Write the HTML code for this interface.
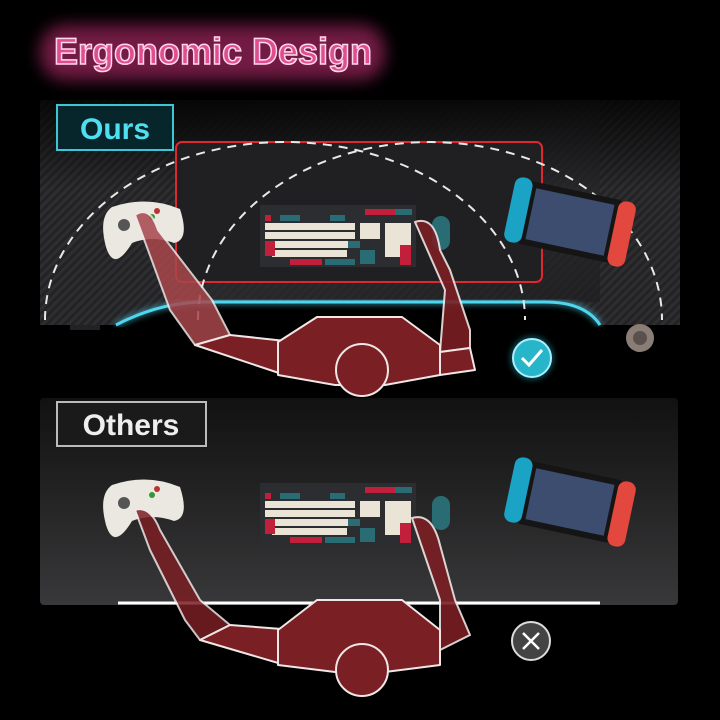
<!DOCTYPE html>
<html><head><meta charset="utf-8"><style>
html,body{margin:0;padding:0;background:#000;}
svg{display:block}
</style></head><body>
<svg width="720" height="720" viewBox="0 0 720 720" xmlns="http://www.w3.org/2000/svg">
<defs>
<linearGradient id="desk" x1="0" y1="0" x2="1" y2="1">
<stop offset="0" stop-color="#1a1a1c"/><stop offset="0.5" stop-color="#2c2c2f"/><stop offset="1" stop-color="#1e1e20"/>
</linearGradient>
<linearGradient id="desk2" x1="0" y1="0" x2="0" y2="1">
<stop offset="0" stop-color="#111"/><stop offset="1" stop-color="#38383a"/>
</linearGradient>
<linearGradient id="fade" x1="0" y1="0" x2="0" y2="1">
<stop offset="0" stop-color="#000" stop-opacity="0.8"/><stop offset="0.4" stop-color="#000" stop-opacity="0"/>
</linearGradient>
<pattern id="carbon" width="6" height="6" patternUnits="userSpaceOnUse" patternTransform="rotate(45)">
<rect width="6" height="6" fill="#232325"/><rect width="3" height="6" fill="#2e2e31"/>
</pattern>
<filter id="glow" x="-20%" y="-50%" width="140%" height="200%"><feGaussianBlur stdDeviation="8"/></filter>
<filter id="g2"><feGaussianBlur stdDeviation="3"/></filter>
<g id="kb">
<rect x="0" y="0" width="156" height="62" fill="#2b2d30"/>
<rect x="105" y="4" width="30" height="6" fill="#c21f3a"/><rect x="135" y="4" width="17" height="6" fill="#2a6c74"/>
<g fill="#e9e4d6">
<rect x="5" y="18" width="90" height="7"/><rect x="5" y="27" width="90" height="7"/><rect x="10" y="36" width="80" height="7"/><rect x="12" y="45" width="75" height="7"/>
<rect x="100" y="18" width="20" height="16"/><rect x="125" y="18" width="26" height="34"/>
</g>
<g fill="#2a6c74"><rect x="20" y="10" width="20" height="6"/><rect x="70" y="10" width="15" height="6"/><rect x="88" y="36" width="12" height="7"/><rect x="65" y="54" width="30" height="6"/><rect x="100" y="45" width="15" height="14"/></g>
<g fill="#c21f3a"><rect x="5" y="10" width="6" height="6"/><rect x="5" y="36" width="10" height="15"/><rect x="30" y="54" width="32" height="6"/><rect x="140" y="40" width="11" height="20"/></g>
</g>
<g id="sw">
<rect x="-48" y="-32" width="96" height="64" rx="4" fill="#151515"/>
<rect x="-40" y="-26" width="80" height="52" fill="#3d4d70"/>
<rect x="-62" y="-34" width="18" height="66" rx="8" fill="#1ba3c6"/>
<rect x="44" y="-32" width="18" height="66" rx="8" fill="#e2483d"/>
</g>
<g id="ctl">
<path d="M10 12 Q45 0 78 14 Q88 45 72 48 Q50 40 30 48 Q12 78 4 52 Q-4 22 10 12Z" fill="#ebe8e2"/>
<circle cx="22" cy="30" r="6" fill="#555"/><circle cx="55" cy="16" r="3" fill="#b33"/><circle cx="50" cy="22" r="3" fill="#393"/>
</g>
</defs>

<!-- Title -->
<rect x="40" y="25" width="345" height="55" rx="25" fill="#d0317c" opacity="0.55" filter="url(#glow)"/>
<text x="54" y="64" font-family="Liberation Sans, sans-serif" font-weight="bold" font-size="37" fill="#dd4f90" stroke="#ffd6ea" stroke-width="1.5" textLength="318" lengthAdjust="spacingAndGlyphs">Ergonomic Design</text>

<!-- ===== OURS ===== -->
<path d="M40 100 H680 V325 H600 Q590 302 545 302 H205 Q160 302 120 325 H40 Z" fill="url(#carbon)"/>
<path d="M170 100 H600 V302 H205 Z" fill="url(#desk)" opacity="0.7"/>
<rect x="40" y="100" width="640" height="225" fill="url(#fade)"/>
<path d="M116 325 Q160 302 205 302 H545 Q585 302 600 325" fill="none" stroke="#4fd6ef" stroke-width="3"/>
<path d="M116 325 Q160 302 205 302 H545 Q585 302 600 325" fill="none" stroke="#4fd6ef" stroke-width="6" opacity="0.5" filter="url(#g2)"/>
<rect x="176" y="142" width="366" height="140" rx="6" fill="#202022" stroke="#e0262f" stroke-width="2"/>
<rect x="70" y="325" width="30" height="5" fill="#222"/>
<circle cx="640" cy="338" r="14" fill="#8a7d76"/><circle cx="640" cy="338" r="7" fill="#5b514c"/>
<path d="M45 320 A240 178 0 0 1 525 320" fill="none" stroke="#e8e8e8" stroke-width="2" stroke-dasharray="9 7"/>
<path d="M198 320 A232 178 0 0 1 662 320" fill="none" stroke="#e8e8e8" stroke-width="2" stroke-dasharray="9 7"/>
<use href="#kb" x="260" y="205"/>
<rect x="432" y="216" width="18" height="34" rx="9" fill="#2a6c74"/>
<use href="#ctl" x="102" y="195"/>
<use href="#sw" transform="translate(570 222) rotate(12)"/>
<g fill="#7a1f24" stroke="#f0e6e6" stroke-width="2" stroke-linejoin="round">
<path d="M135 215 Q150 205 158 230 L212 300 L230 335 L195 345 L170 310 L148 250 Z" fill="#a8474c" opacity="0.85"/>
<path d="M195 345 L230 335 L295 342 L285 375 Z"/>
<path d="M415 222 Q435 215 440 250 L450 270 L470 330 L470 348 L440 352 L445 290 Z" opacity="0.9"/>
<path d="M440 352 L470 348 L475 370 L440 375 Z"/>
<path d="M317 317 H402 L440 345 L440 375 L385 385 L335 385 L278 375 L278 342 Z"/>
<circle cx="362" cy="370" r="26"/>
</g>
<circle cx="532" cy="358" r="22" fill="#27b6c9" opacity="0.4" filter="url(#g2)"/>
<circle cx="532" cy="358" r="19" fill="#27b6c9" stroke="#aef" stroke-width="2"/>
<path d="M522 358 L529 365 L542 350" fill="none" stroke="#fff" stroke-width="3"/>
<rect x="57" y="105" width="116" height="45" fill="#06262c" stroke="#3fc6d6" stroke-width="2"/>
<text x="115" y="139" text-anchor="middle" font-family="Liberation Sans, sans-serif" font-weight="bold" font-size="30" fill="#4ee0f2">Ours</text>

<!-- ===== OTHERS ===== -->
<rect x="40" y="398" width="638" height="207" rx="4" fill="url(#desk2)"/>
<line x1="118" y1="603" x2="600" y2="603" stroke="#fff" stroke-width="3"/>
<line x1="118" y1="603" x2="600" y2="603" stroke="#fff" stroke-width="8" opacity="0.4" filter="url(#g2)"/>
<use href="#kb" x="260" y="483"/>
<rect x="432" y="496" width="18" height="34" rx="9" fill="#2a6c74"/>
<use href="#ctl" x="102" y="473"/>
<use href="#sw" transform="translate(570 502) rotate(12)"/>
<g fill="#7a1f24" stroke="#f0e6e6" stroke-width="2" stroke-linejoin="round">
<path d="M135 510 Q150 505 160 530 L200 600 L230 625 L200 640 L185 620 L150 550 Z" opacity="0.85"/>
<path d="M200 640 L230 625 L295 630 L285 665 Z"/>
<path d="M412 518 Q432 512 440 545 L455 600 L470 635 L440 650 L440 600 Z" opacity="0.9"/>
<path d="M317 600 H402 L440 630 L440 665 L385 672 L335 672 L278 665 L278 630 Z"/>
<circle cx="362" cy="670" r="26"/>
</g>
<circle cx="531" cy="641" r="19" fill="#444" stroke="#ddd" stroke-width="2"/>
<path d="M523 633 L539 649 M539 633 L523 649" stroke="#fff" stroke-width="2.5"/>
<rect x="57" y="402" width="149" height="44" fill="#1a1a1a" stroke="#bbb" stroke-width="2"/>
<text x="131" y="435" text-anchor="middle" font-family="Liberation Sans, sans-serif" font-weight="bold" font-size="30" fill="#eee">Others</text>
</svg>
</body></html>
